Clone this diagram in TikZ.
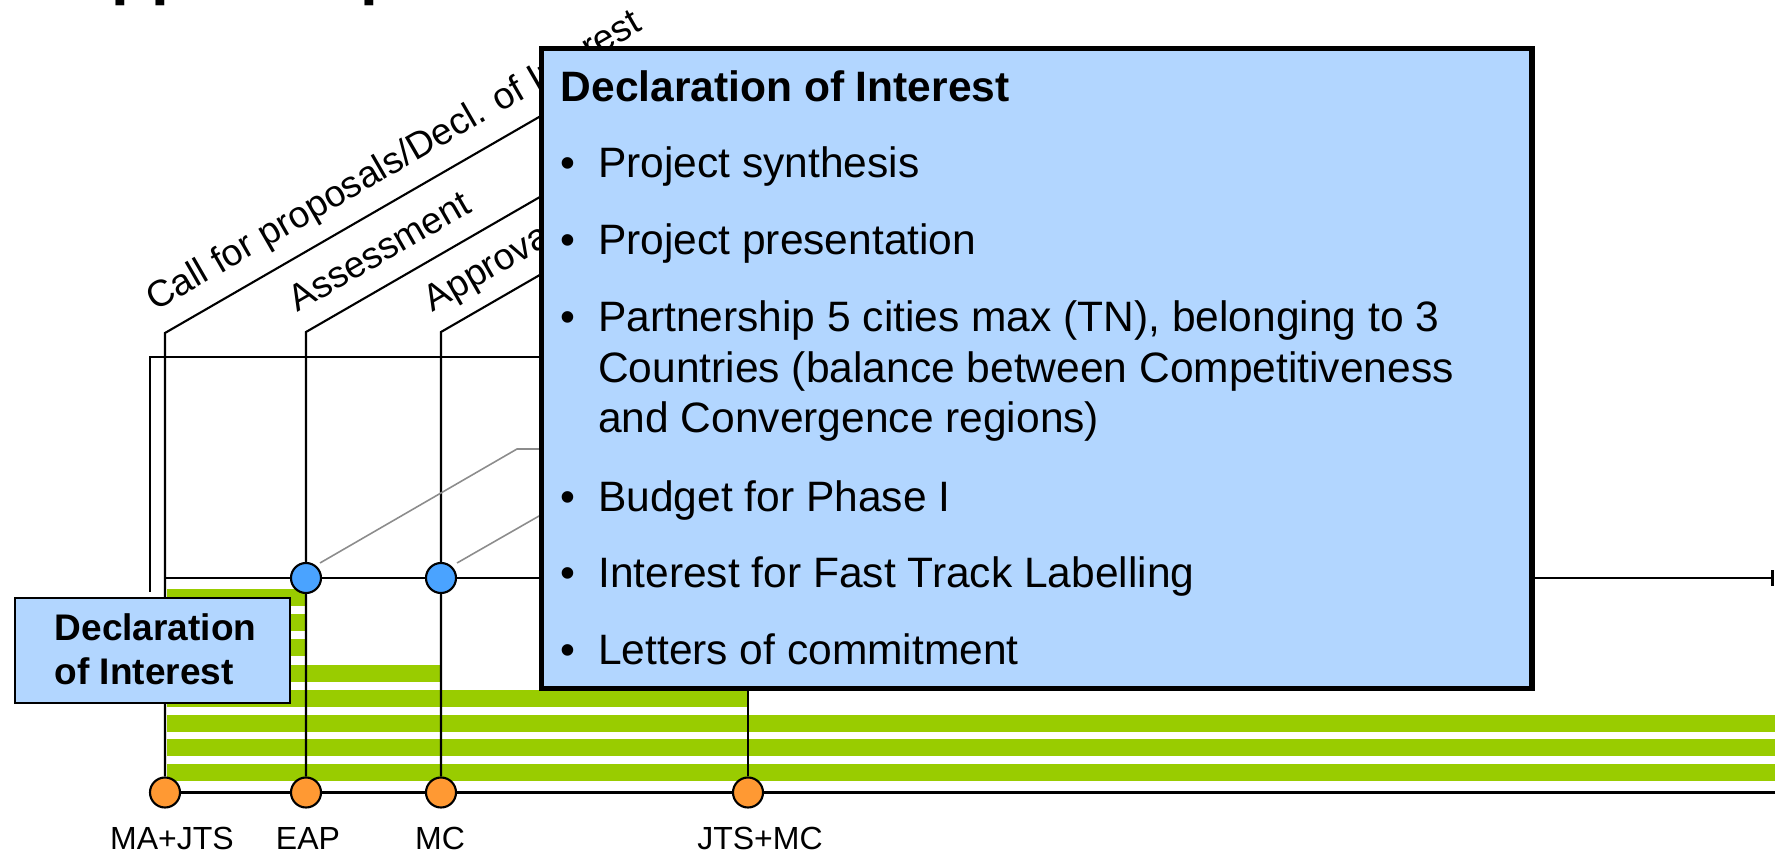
\documentclass[tikz,border=0pt]{standalone}
\usepackage{fontspec}
\setmainfont{Liberation Sans}
\usetikzlibrary{arrows.meta}
\pgfdeclarelayer{bg}
\pgfsetlayers{bg,main}
\definecolor{boxblue}{RGB}{178,214,255}
\definecolor{dotblue}{RGB}{74,163,255}
\definecolor{dotorange}{RGB}{255,153,51}
\definecolor{bargreen}{RGB}{153,204,0}
\definecolor{leadgray}{RGB}{140,140,140}
\newcommand\myfs[1]{\fontsize{#1}{#1}\selectfont}
\begin{document}
\begin{tikzpicture}[x=0.01cm, y=-0.01cm,
  ln/.style={line width=0.6pt, draw=black},
  gline/.style={line width=0.45pt, draw=leadgray},
  dot/.style={circle, draw=black, line width=0.6pt, minimum size=0.3cm, inner sep=0pt},
  bdot/.style={dot, fill=dotblue},
  odot/.style={dot, fill=dotorange},
  phase/.style={anchor=base west, inner sep=0pt, rotate=30, font=\myfs{10.58}},
  boxtxt/.style={anchor=base west, inner sep=0pt, font=\myfs{12.09}},
  boxhead/.style={anchor=base west, inner sep=0pt, font=\bfseries\myfs{12.09}},
  smallhead/.style={anchor=base west, inner sep=0pt, font=\bfseries\myfs{10.53}},
  actor/.style={anchor=base, inner sep=0pt, font=\myfs{9.1}},
]
\useasboundingbox (0,0) rectangle (1775,855);

% cropped title (only descenders visible)
\begin{scope}
  \clip (0,0) rectangle (1775,855);
  \node[anchor=base west, inner sep=0pt, font=\bfseries\myfs{18.2}] (title) at (65,-7.5) {Approval procedure};
\end{scope}

% coordinates
\coordinate (cTop) at (165,333);
\coordinate (aTop) at (306,332);
\coordinate (pTop) at (441,332);
\coordinate (jTop) at (748,400);
\coordinate (cEnd) at (600,81.8);
\coordinate (aEnd) at (600,162.3);
\coordinate (pEnd) at (600,240.2);
\coordinate (frameB) at (150,592);
\coordinate (frameTL) at (150,357);
\coordinate (frameR) at (560,357);
\coordinate (axisL) at (165,578);
\coordinate (axisR) at (1773.5,578);
\coordinate (botR) at (1775,792.5);
\coordinate (g1s) at (320,563);
\coordinate (g1m) at (517,449);
\coordinate (g1e) at (560,449);
\coordinate (g2s) at (457,563);
\coordinate (g2e) at (560,504);

% phase labels
\node[phase] (lblcall) at (155,312) {Call for proposals/Decl. of Interest};
\node[phase] (lblassess) at (297,313) {Assessment};
\node[phase] (lblapprove) at (432,313) {Approval};

% milestones
\node[bdot] (b1) at (306,578) {};
\node[bdot] (b2) at (441,578) {};
\node[odot] (o1) at (165,792.5) {};
\node[odot] (o2) at (306,792.5) {};
\node[odot] (o3) at (441,792.5) {};
\node[odot] (o4) at (748,792.5) {};

\begin{pgfonlayer}{bg}
  \foreach \t/\e in {589/305, 614/305, 639/305, 665/441, 690/748, 715/1775, 739/1775, 764/1775}
    \fill[bargreen] (167,\t) rectangle (\e,{\t+17});
  \draw[ln] (frameB) -- (frameTL) -- (frameR);
  \draw[ln] (o1) -- (cTop) -- (cEnd);
  \draw[ln] (o2) -- (aTop) -- (aEnd);
  \draw[ln] (o3) -- (pTop) -- (pEnd);
  \draw[ln] (o4) -- (jTop);
  \draw[ln, -{Bar[width=4.3pt, line width=0.6pt]}] (axisL) -- (axisR);
  \draw[ln] (o1) -- (botR);
  \draw[gline] (g1s) -- (g1m) -- (g1e);
  \draw[gline] (g2s) -- (g2e);
\end{pgfonlayer}

% small box
\node[draw=black, line width=0.7pt, fill=boxblue, minimum width=2.75cm, minimum height=1.05cm, inner sep=0pt] (doi) at (152.5,650.5) {};
\node[smallhead] (doi1) at (54,640) {Declaration};
\node[smallhead] (doi2) at (54,685) {of Interest};

% big detail box
\node[draw=black, line width=1.56pt, fill=boxblue, minimum width=9.8975cm, minimum height=6.4cm, inner sep=0pt] (detail) at (1036.6,368.5) {};
\node[boxhead] (dhead) at (560,102) {Declaration of Interest};
\foreach \y in {178,255,332,512,588,665}
  \node[boxtxt] at (560,\y) {\textbullet};
\node[boxtxt] (d1) at (597.5,178) {Project synthesis};
\node[boxtxt] (d2) at (597.5,255) {Project presentation};
\node[boxtxt] (d3) at (597.5,332) {Partnership 5 cities max (TN), belonging to 3};
\node[boxtxt] (d3b) at (597.5,383) {Countries (balance between Competitiveness};
\node[boxtxt] (d3c) at (597.5,433) {and Convergence regions)};
\node[boxtxt] (d4) at (597.5,512) {Budget for Phase I};
\node[boxtxt] (d5) at (597.5,588) {Interest for Fast Track Labelling};
\node[boxtxt] (d6) at (597.5,665) {Letters of commitment};

% actor labels
\node[actor] (a1) at (172,850) {MA+JTS};
\node[actor] (a2) at (308,850) {EAP};
\node[actor] (a3) at (440,850) {MC};
\node[actor] (a4) at (760,850) {JTS+MC};
\end{tikzpicture}
\end{document}
